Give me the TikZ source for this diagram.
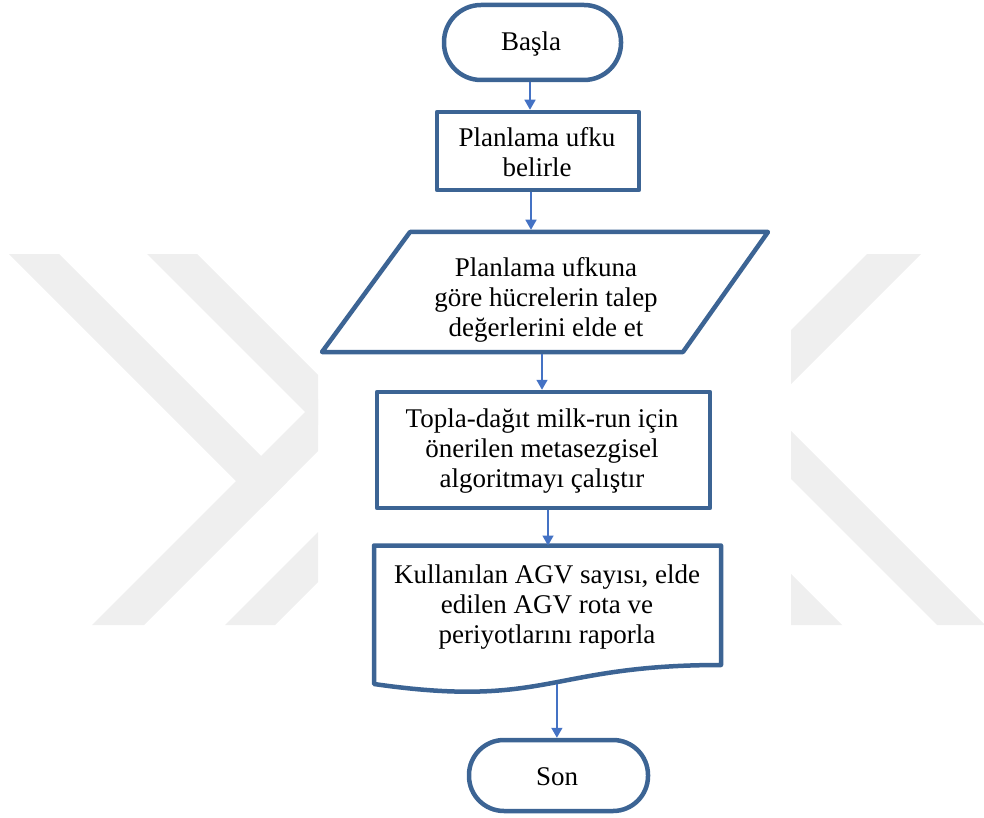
\documentclass[tikz,border=0pt]{standalone}
\usepackage{fontspec}
\setmainfont{Liberation Serif}
\usetikzlibrary{arrows.meta,calc}
\definecolor{edgeblue}{RGB}{60,100,148}
\definecolor{arrowblue}{RGB}{68,114,196}
\definecolor{markgray}{RGB}{239,239,239}
\tikzset{
  shapeline/.style={draw=edgeblue, line width=4.5pt, line join=round},
  boxnode/.style={shapeline, rectangle, inner sep=0pt, fill=white},
  termnode/.style={boxnode, rounded corners=#1},
  frame/.style={rectangle, inner sep=0pt, outer sep=0pt},
  txt/.style={font=\fontsize{27}{30}\selectfont, align=center, inner sep=0pt},
  flow/.style={draw=arrowblue, line width=1.6pt, -{Triangle[length=10pt,width=11pt]}},
}
\begin{document}
\begin{tikzpicture}[x=1pt,y=-1pt]
\useasboundingbox (0,0) rectangle (984,818);

% faint background watermark bands
\begin{scope}
  \clip (0,254) rectangle (318,625) (791,254) rectangle (984,625);
  \fill[markgray] (-45,200) -- (5,200) -- (287,482) -- (262,507) -- cycle;
  \fill[markgray] (17,700) -- (69,700) -- (356,413) -- (330,387) -- cycle;
  \fill[markgray] (93,200) -- (143,200) -- (393,450) -- (343,450) -- cycle;
  \fill[markgray] (150,700) -- (200,700) -- (450,450) -- (400,450) -- cycle;
  \fill[markgray] (921,200) -- (975,200) -- (725,450) -- (671,450) -- cycle;
  \fill[markgray] (662,350) -- (710,350) -- (1060,700) -- (1012,700) -- cycle;
  \fill[markgray] (565,400) -- (617,400) -- (917,700) -- (865,700) -- cycle;
\end{scope}

% flowchart shapes
\node[termnode=37pt, minimum width=177pt, minimum height=75pt] (start) at (532.5,42.5) {};
\node[txt] (startT) at (531,45) {\strut Başla};

\node[boxnode, minimum width=202pt, minimum height=78pt] (horizon) at (538,151) {};
\node[txt] (horizonT) at (537,156) {\strut Planlama ufku\\belirle\strut};

\node[frame, minimum width=446pt, minimum height=120pt] (demand) at (545,292) {};
\draw[shapeline, fill=white] ($(demand.north west)+(88,0)$) -- (demand.north east)
  -- ($(demand.south east)+(-85,0)$) -- (demand.south west) -- cycle;
\node[txt] (demandT) at (546,300) {\strut Planlama ufkuna\\göre hücrelerin talep\\değerlerini elde et\strut};

\node[boxnode, minimum width=333pt, minimum height=116pt] (alg) at (543.5,450) {};
\node[txt] (algT) at (542,451.5) {\strut Topla-dağıt milk-run için\\önerilen metasezgisel\\algoritmayı çalıştır\strut};

\node[frame, minimum width=347pt, minimum height=138.5pt] (doc) at (547.5,614.75) {};
\draw[shapeline, fill=white] (doc.north west) -- (doc.north east) -- ($(doc.north east)+(0,119.5)$)
  .. controls ($(doc.north)+(0,119.5)$) and ($(doc.north)+(0,163.5)$) ..
  coordinate[pos=0.464] (docb) (doc.south west) -- cycle;
\node[txt] (docT) at (547,607) {\strut Kullanılan AGV sayısı, elde\\edilen AGV rota ve\\periyotlarını raporla\strut};

\node[termnode=35pt, minimum width=179pt, minimum height=71pt] (finish) at (558.5,775.5) {};
\node[txt] (finishT) at (557,779) {\strut Son};

% connector columns
\coordinate (c1) at (530,0);
\coordinate (c2) at (531,0);
\coordinate (c3) at (542,0);
\coordinate (c4) at (548,0);

% connectors
\draw[flow] (start.south -| c1) -- (horizon.north -| c1);
\draw[flow, shorten >=2.25pt] (horizon.south -| c2) -- (demand.north -| c2);
\draw[flow, shorten <=2.25pt] (demand.south -| c3) -- (alg.north -| c3);
\draw[flow] (alg.south -| c4) -- (doc.north -| c4);
\draw[flow, shorten <=2.25pt] (docb) -- (finish.north -| docb);
\end{tikzpicture}
\end{document}
